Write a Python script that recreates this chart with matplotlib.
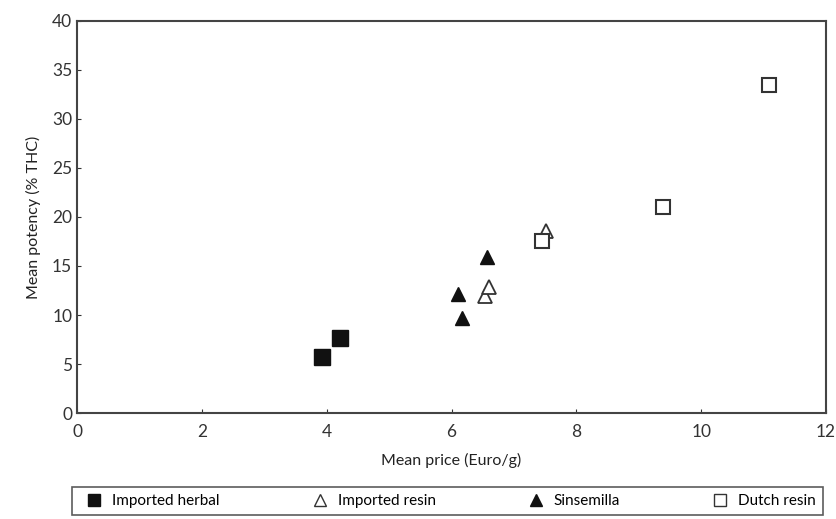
import matplotlib.pyplot as plt
from matplotlib.lines import Line2D

plt.rcParams['font.family'] = ['Lato', 'DejaVu Sans']

# data (price in Euro/g, potency in % THC)
herbal_x = [3.92, 4.21]
herbal_y = [5.7, 7.7]
resin_x = [6.53, 6.60, 7.52]
resin_y = [11.9, 12.9, 18.6]
sinsemilla_x = [6.10, 6.17, 6.56]
sinsemilla_y = [12.1, 9.7, 15.9]
dutch_x = [7.45, 9.39, 11.08]
dutch_y = [17.5, 21.0, 33.5]

fig = plt.figure(figsize=(8.37, 5.19), dpi=100)
ax = fig.add_axes([0.092, 0.204, 0.895, 0.756])

ax.plot(herbal_x, herbal_y, 's', color='#111111', ms=11, ls='none')
ax.plot(resin_x, resin_y, '^', mfc='white', mec='#333333', mew=1.3, ms=10, ls='none')
ax.plot(sinsemilla_x, sinsemilla_y, '^', color='#111111', ms=10, ls='none')
ax.plot(dutch_x, dutch_y, 's', mfc='white', mec='#333333', mew=1.5, ms=10, ls='none')

ax.set_xlim(0, 12)
ax.set_ylim(0, 40)
ax.set_xticks(range(0, 13, 2))
ax.set_yticks(range(0, 41, 5))
ax.tick_params(direction='in', length=3, width=0.8, labelsize=12.5, colors='#333333')
ax.tick_params(axis='x', pad=8)
for s in ax.spines.values():
    s.set_color('#444444')
    s.set_linewidth(1.5)

ax.set_xlabel('Mean price (Euro/g)', fontsize=11.5, color='#222222', labelpad=9)
ax.set_ylabel('Mean potency (% THC)', fontsize=11.5, color='#222222', labelpad=8)

handles = [
    Line2D([], [], marker='s', color='#111111', ls='none', ms=9),
    Line2D([], [], marker='^', mfc='white', mec='#333333', ls='none', ms=9),
    Line2D([], [], marker='^', color='#111111', ls='none', ms=9),
    Line2D([], [], marker='s', mfc='white', mec='#333333', ls='none', ms=9),
]
labels = ['Imported herbal', 'Imported resin', 'Sinsemilla', 'Dutch resin']
leg = fig.legend(handles, labels, loc='upper left', ncol=4, mode='expand',
                 bbox_to_anchor=(0.086, 0.0, 0.897, 0.0617), fontsize=11,
                 frameon=True, fancybox=False, edgecolor='#333333',
                 handletextpad=0.2, borderpad=0.45, borderaxespad=0)
leg.get_frame().set_linewidth(1.2)

fig.savefig('out.png', dpi=100)
